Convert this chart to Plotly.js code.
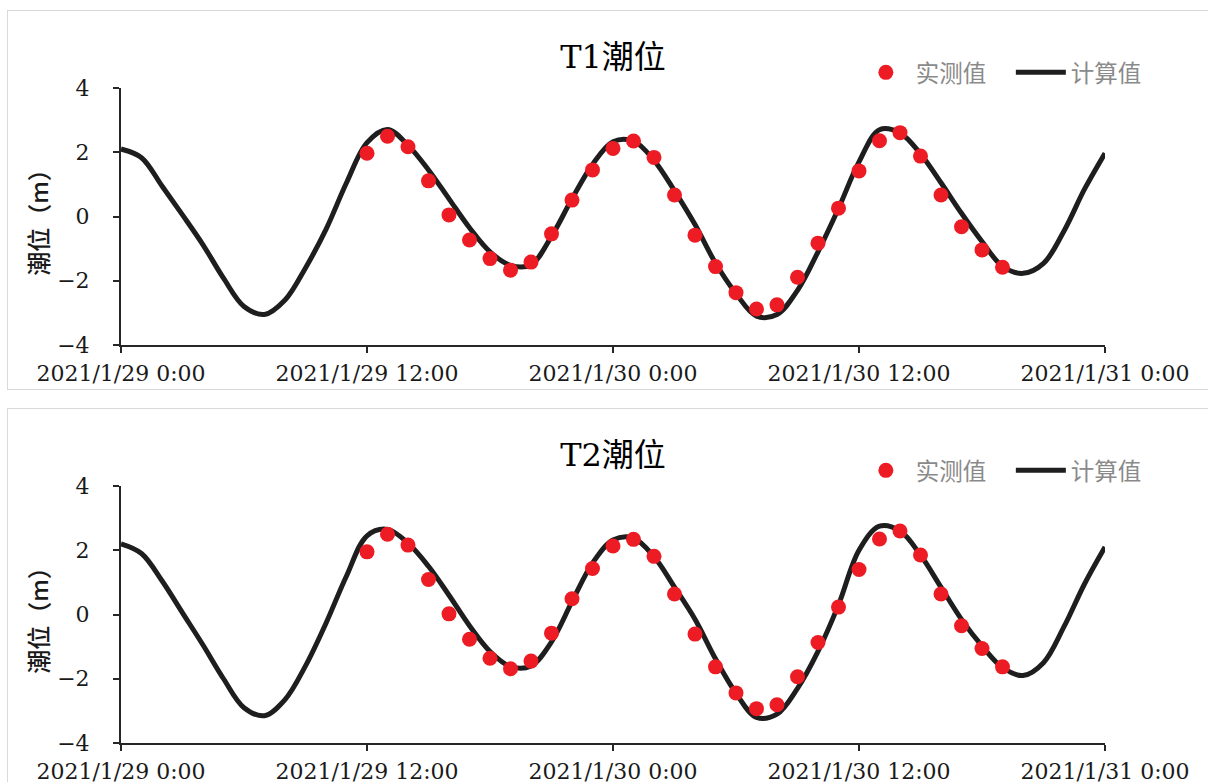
<!DOCTYPE html>
<html><head><meta charset="utf-8">
<script src="https://cdn.plot.ly/plotly-3.0.1.min.js"></script>
<style>
html,body{margin:0;padding:0;overflow:hidden;background:#fff;width:1208px;height:782px}
.panel{position:absolute;left:7px;width:1210px;height:378px;border:1px solid #d9d9d9;background:#fff}
#p1{top:10px}
#p2{top:408px}
</style></head><body>
<div id="p1" class="panel"></div>
<div id="p2" class="panel"></div>
<script>
// hours after 2021/1/29 0:00
const lineHours = [0,1,2,3,4,5,6,7,8,9,10,11,12,13,14,15,16,17,18,19,20,21,22,23,24,25,26,27,28,29,30,31,32,33,34,35,36,37,38,39,40,41,42,43,44,45,46,47,48];
const obsHours = [12,13,14,15,16,17,18,19,20,21,22,23,24,25,26,27,28,29,30,31,32,33,34,35,36,37,38,39,40,41,42,43];

// T1 计算值 / 实测值 (m)
const t1Calc = [2.1,1.83,0.95,0.05,-0.88,-1.92,-2.8,-3.05,-2.6,-1.6,-0.4,1.05,2.3,2.71,2.22,1.45,0.55,-0.35,-1.1,-1.52,-1.5,-0.62,0.55,1.62,2.33,2.35,1.75,0.8,-0.25,-1.45,-2.4,-3.1,-3.05,-2.3,-1.1,0.25,1.7,2.7,2.6,1.95,1.05,0.1,-0.78,-1.55,-1.77,-1.46,-0.45,0.85,1.97];
const t1Obs = [1.97,2.5,2.17,1.11,0.05,-0.73,-1.31,-1.67,-1.42,-0.54,0.51,1.45,2.12,2.35,1.84,0.67,-0.58,-1.56,-2.37,-2.88,-2.75,-1.89,-0.83,0.26,1.42,2.36,2.61,1.88,0.67,-0.32,-1.04,-1.58];

// T2 计算值 / 实测值 (m)
const t2Calc = [2.2,1.9,1.05,0.05,-0.95,-2.0,-2.9,-3.15,-2.65,-1.6,-0.27,1.2,2.45,2.65,2.22,1.5,0.6,-0.35,-1.15,-1.62,-1.6,-0.85,0.4,1.6,2.32,2.38,1.8,0.85,-0.15,-1.38,-2.45,-3.2,-3.1,-2.3,-1.15,0.3,2.0,2.75,2.6,1.85,0.85,-0.15,-0.98,-1.65,-1.9,-1.5,-0.38,0.95,2.1];
const t2Obs = [1.95,2.5,2.16,1.09,0.02,-0.77,-1.36,-1.69,-1.45,-0.58,0.49,1.43,2.13,2.34,1.81,0.64,-0.61,-1.63,-2.44,-2.93,-2.81,-1.94,-0.87,0.23,1.4,2.35,2.6,1.85,0.64,-0.35,-1.06,-1.63];

const tickVals = ['2021-01-29 00:00','2021-01-29 12:00','2021-01-30 00:00','2021-01-30 12:00','2021-01-31 00:00'];
const tickText = ['2021/1/29 0:00','2021/1/29 12:00','2021/1/30 0:00','2021/1/30 12:00','2021/1/31 0:00'];
const yTicks = [-4,-2,0,2,4];

function toTime(h){
  const d = new Date(Date.UTC(2021,0,29,0,0) + h*3600000);
  return d.toISOString().slice(0,16).replace('T',' ');
}

const serif = '"DejaVu Serif", "Noto Sans CJK SC", serif';
const cjk = '"Noto Sans CJK SC", sans-serif';

function draw(id, title, calc, obs){
  const traces = [
    {x: lineHours.map(toTime), y: calc, name: '计算值', type: 'scatter', mode: 'lines',
     line: {color: '#1e1e1e', width: 5, shape: 'spline', smoothing: 1}, legendrank: 2},
    {x: obsHours.map(toTime), y: obs, name: '实测值', type: 'scatter', mode: 'markers',
     marker: {color: '#ed1c24', size: 15}, legendrank: 1}
  ];
  const layout = {
    width: 1210, height: 378,
    margin: {l: 113, r: 113, t: 77, b: 44, autoexpand: false},
    paper_bgcolor: '#fff', plot_bgcolor: '#fff',
    showlegend: true,
    title: {text: title, x: 0.5, xanchor: 'center', y: 0.88, yanchor: 'middle',
            font: {family: serif, size: 32, color: '#000'}},
    legend: {orientation: 'h', x: 0.7468, xanchor: 'left', y: 1.06, yanchor: 'middle', itemwidth: 50,
             entrywidth: 90, entrywidthmode: 'pixels',
             font: {family: cjk, size: 23.5, color: '#8a8a8a'}, bgcolor: 'rgba(0,0,0,0)'},
    xaxis: {type: 'date', range: [tickVals[0], tickVals[4]], tickvals: tickVals, ticktext: tickText,
            showgrid: false, zeroline: false, showline: true, linecolor: '#262626', linewidth: 2,
            ticks: 'outside', ticklen: 6, tickwidth: 2, tickcolor: '#262626', ticklabelstandoff: 2,
            tickfont: {family: serif, size: 22, color: '#1a1a1a'}},
    yaxis: {range: [-4, 4], tickvals: yTicks, showgrid: false, zeroline: false,
            showline: true, linecolor: '#262626', linewidth: 2,
            ticks: 'outside', ticklen: 6, tickwidth: 2, tickcolor: '#262626', ticklabelstandoff: 19,
            tickfont: {family: serif, size: 22, color: '#1a1a1a'},
            title: {text: '潮位（m）', standoff: 2, font: {family: cjk, size: 24, color: '#1a1a1a', weight: 500}}}
  };
  Plotly.newPlot(id, traces, layout, {staticPlot: true, displayModeBar: false});
}
draw('p1', 'T1潮位', t1Calc, t1Obs);
draw('p2', 'T2潮位', t2Calc, t2Obs);
</script>
</body></html>
